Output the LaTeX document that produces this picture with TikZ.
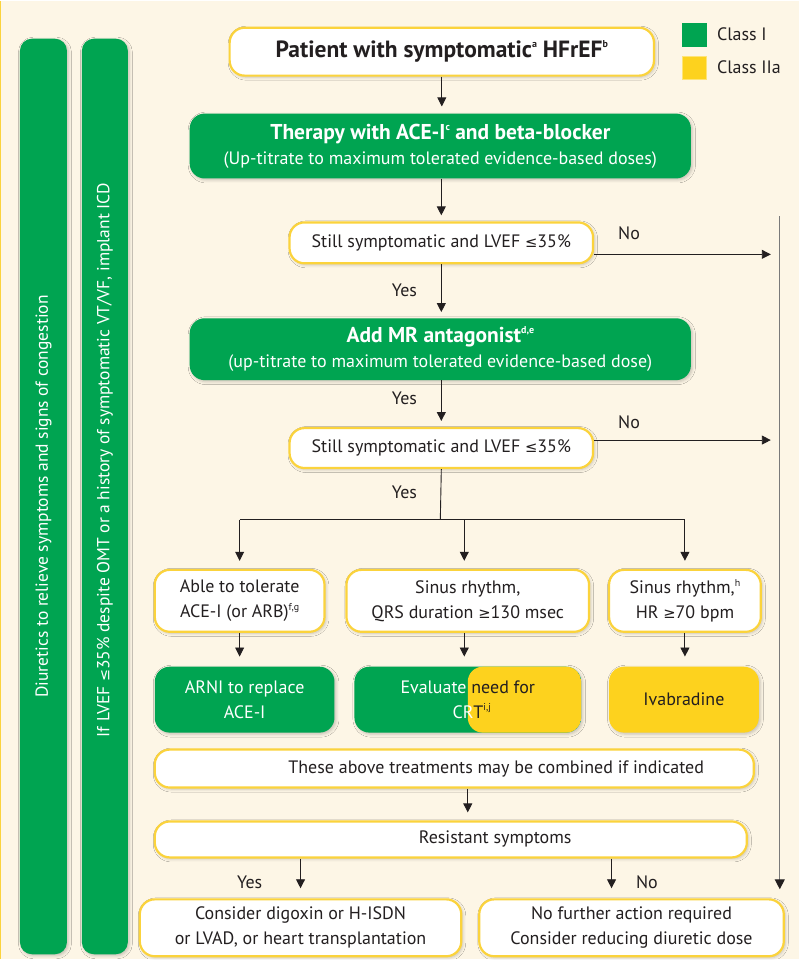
\documentclass[tikz,border=0pt]{standalone}
\usepackage{fontspec}
\setmainfont{PT Sans}
\newfontfamily\symfont{DejaVu Sans}[Scale=0.82]
\usetikzlibrary{arrows.meta,shadows.blur}
\definecolor{bg}{HTML}{FDF6E6}
\definecolor{cgreen}{HTML}{00A451}
\definecolor{cyellow}{HTML}{FDD21E}
\definecolor{yborder}{HTML}{FBD33C}
\definecolor{ink}{HTML}{231F20}
\definecolor{rail}{HTML}{7A7A7A}
\newcommand{\lessEq}{{\symfont ≤}}
\newcommand{\moreEq}{{\symfont ≥}}
\newcommand{\fn}[1]{\raisebox{0.85ex}{\fontsize{10}{10}\selectfont #1}}
\begin{document}
\begin{tikzpicture}[x=1pt,y=-1pt,
  font=\fontsize{18}{25}\selectfont, text=ink,
  soft/.style={blur shadow={shadow xshift=1.5pt,shadow yshift=-1.5pt,shadow blur radius=3pt,shadow opacity=22}},
  whitebox/.style={draw=yborder, line width=2.2pt, fill=white, rounded corners=15pt,
    align=center, inner sep=0pt, soft},
  greenbox/.style={fill=cgreen, text=white, rounded corners=15pt,
    align=center, inner sep=0pt, soft},
  yellowbox/.style={fill=cyellow, text=ink, rounded corners=15pt,
    align=center, inner sep=0pt, soft},
  bar/.style={fill=cgreen, text=white, rounded corners=12pt, rotate=90,
    inner sep=0pt, soft, font=\fontsize{17.5}{20}\selectfont},
  arr/.style={draw=ink, line width=0.9pt, -{Triangle[length=9pt,width=9pt]}},
  lin/.style={draw=ink, line width=0.9pt},
  lbl/.style={text=ink, inner sep=0pt},
]
% page
\fill[bg] (0,0) rectangle (800,960);
\draw[yborder, line width=1.5pt] (0.75,0) -- (0.75,960);
\useasboundingbox (0,0) rectangle (800,960);

% side bars
\node[bar, minimum width=917pt, minimum height=47pt] (bar1) at (43.5,496.5)
  {Diuretics to relieve symptoms and signs of congestion};
\node[bar, minimum width=917pt, minimum height=46pt] (bar2) at (105,496.5)
  {\hspace*{73pt}If LVEF \lessEq35\% despite OMT or a history of symptomatic VT/VF, implant ICD};

% legend
\node[fill=cgreen, minimum width=25pt, minimum height=24pt, inner sep=0pt] (k1) at (695.5,34) {};
\node[fill=cyellow, draw=cyellow!60, line width=1pt, minimum width=24pt, minimum height=23pt, inner sep=0pt] (k2) at (695.5,67) {};
\node[lbl, anchor=west] (k1t) at (718,34) {Class I};
\node[lbl, anchor=west] (k2t) at (718,67) {Class IIa};

% main column
\node[whitebox, minimum width=425pt, minimum height=48pt, font=\fontsize{23.5}{26}\selectfont\bfseries] (top) at (442.5,51)
  {Patient with symptomatic\fn{a} HFrEF\fn{b}};
\node[greenbox, minimum width=502pt, minimum height=65pt] (g1) at (441,145.5)
  {\textbf{\fontsize{21.5}{25}\selectfont Therapy with ACE-I\fn{c} and beta-blocker}\\(Up-titrate to maximum tolerated evidence-based doses)};
\node[whitebox, minimum width=304pt, minimum height=41pt] (d1) at (442,242.5)
  {Still symptomatic and LVEF \lessEq35\%};
\node[greenbox, minimum width=502pt, minimum height=62pt] (g2) at (441,349)
  {\textbf{\fontsize{21.5}{25}\selectfont Add MR antagonist\fn{d,e}}\\(up-titrate to maximum tolerated evidence-based dose)};
\node[whitebox, minimum width=304pt, minimum height=40pt] (d2) at (442,448)
  {Still symptomatic and LVEF \lessEq35\%};

% three options
\node[whitebox, minimum width=170pt, minimum height=62pt] (b1) at (240,601)
  {Able to tolerate\\ACE-I (or ARB)\fn{f,g}};
\node[whitebox, minimum width=243pt, minimum height=62pt] (b2) at (468.5,601)
  {Sinus rhythm,\\QRS duration \moreEq130 msec};
\node[whitebox, minimum width=152pt, minimum height=62pt] (b3) at (686,601)
  {Sinus rhythm,\fn{h}\\HR \moreEq70 bpm};

\node[greenbox, minimum width=180pt, minimum height=66pt] (a1) at (245,700)
  {ARNI to replace\\ACE-I};
\node[greenbox, minimum width=227pt, minimum height=66pt,
  path picture={\fill[cyellow] (path picture bounding box.north) rectangle (path picture bounding box.south east);}] (a2) at (468.5,700)
  {Evaluate \textcolor{ink}{need for}\\\hspace*{8pt}CR\textcolor{ink}{T\fn{i,j}}};
\node[yellowbox, minimum width=150pt, minimum height=66pt] (a3) at (685,700)
  {Ivabradine};

\node[whitebox, minimum width=600pt, minimum height=38pt] (comb) at (455,769)
  {\hspace*{84pt}These above treatments may be combined if indicated};
\node[whitebox, minimum width=593pt, minimum height=36pt] (res) at (451.5,840)
  {\hspace*{89pt}Resistant symptoms};

\node[whitebox, minimum width=322pt, minimum height=57pt] (cd) at (301,928.5)
  {Consider digoxin or H-ISDN\\or LVAD, or heart transplantation};
\node[whitebox, minimum width=305pt, minimum height=57pt] (nf) at (632.5,928.5)
  {No further action required\\Consider reducing diuretic dose};

% connectors
\draw[arr, shorten >=7pt] (top.south) -- (top.south |- g1.north);
\draw[arr, shorten >=6pt] (g1.south -| d1.south) -- (d1.north);
\draw[arr, shorten >=6pt] (d1.south) -- (d1.south |- g2.north);
\draw[arr, shorten >=6pt] (g2.south -| d2.north) -- (d2.north);

\coordinate (split) at (441,520);
\draw[lin] (d2.south) -- (split);
\draw[lin] (b1.north |- split) -- (b3.north |- split);
\draw[arr, shorten >=8pt] (b1.north |- split) -- (b1.north);
\draw[arr, shorten >=8pt] ([xshift=-3.5pt]b2.north |- split) -- ([xshift=-3.5pt]b2.north);
\draw[arr, shorten >=8pt] (b3.north |- split) -- (b3.north);

\draw[arr, shorten >=10pt] (b1.south) -- (b1.south |- a1.north);
\draw[arr, shorten >=10pt] ([xshift=-3.5pt]b2.south) -- ([xshift=-3.5pt]b2.south |- a2.north);
\draw[arr, shorten >=10pt] (b3.south) -- (b3.south |- a3.north);

\draw[arr, shorten >=8pt] (a2.south |- comb.south) -- (a2.south |- res.north);

\draw[arr, shorten >=10pt] (cd.north |- res.south) -- (cd.north);
\draw[arr, shorten >=10pt] ([xshift=-20pt]nf.north |- res.south) -- ([xshift=-20pt]nf.north);

% "No" branches to the right-hand rail
\coordinate (railtop) at (781,216);
\draw[draw=rail, line width=1.3pt, -{Triangle[length=10pt,width=10pt,color=ink,fill=ink]}, shorten >=9pt]
  (railtop) -- (railtop |- nf.north);
\draw[arr, shorten >=9pt] ([yshift=-11.5pt]d1.east) -- ([yshift=-11.5pt]d1.east -| railtop);
\draw[arr, shorten >=9pt] ([yshift=8pt]d2.east) -- ([yshift=8pt]d2.east -| railtop);

% branch labels
\node[lbl] (no1) at (630,233) {No};
\node[lbl] (no2) at (630,422) {No};
\node[lbl] (yes1) at (405,290) {Yes};
\node[lbl] (yes2) at (405,398) {Yes};
\node[lbl] (yes3) at (405,492) {Yes};
\node[lbl] (yes4) at (250,883) {Yes};
\node[lbl] (no3) at (648,883) {No};
\end{tikzpicture}
\end{document}
